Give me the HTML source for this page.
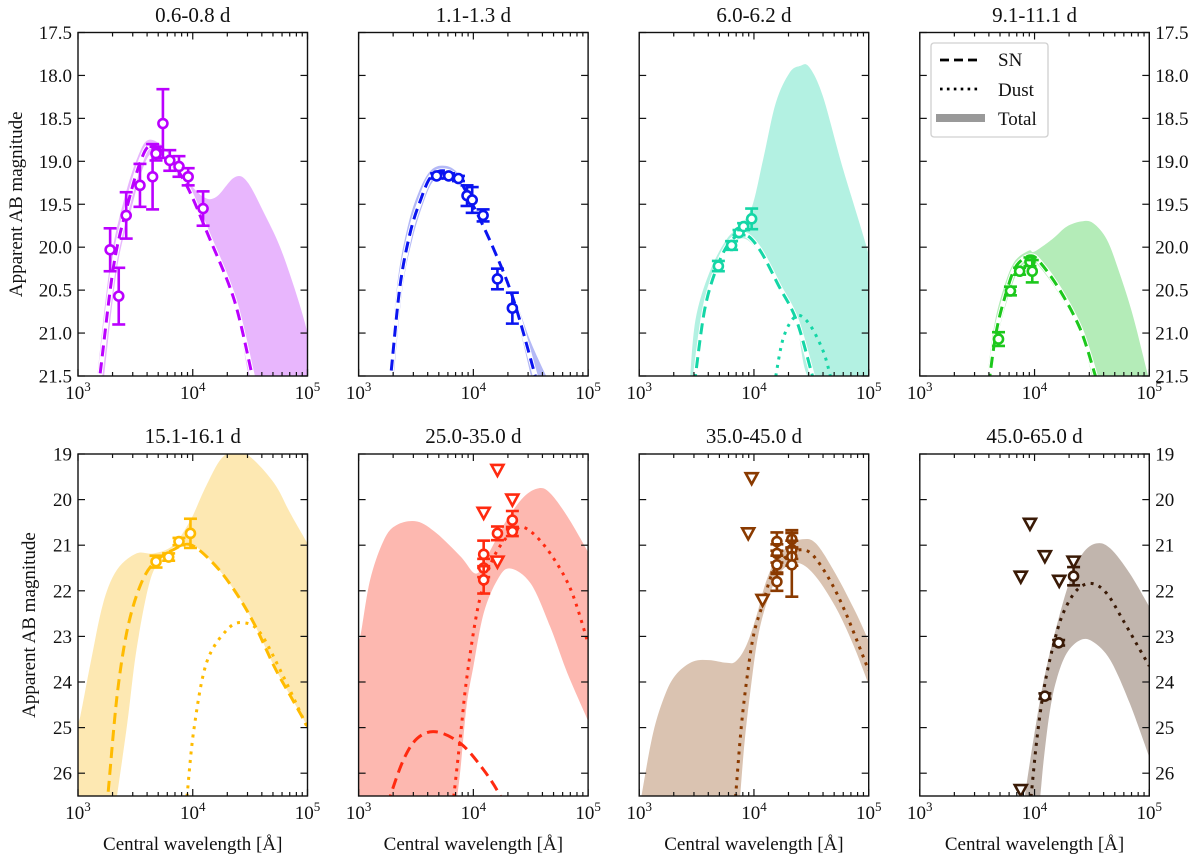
<!DOCTYPE html>
<html><head><meta charset="utf-8"><style>
html,body{margin:0;padding:0;background:#fff}
svg{display:block}
svg text{font-family:"Liberation Serif","Times New Roman",Times,"DejaVu Serif","Noto Serif CJK SC",serif;fill:#111}
</style></head><body>
<svg id="fig" width="1200" height="860" viewBox="0 0 1200 860" xmlns="http://www.w3.org/2000/svg"></svg>
<script>
// ---- panel titles ----
const titles = ["0.6-0.8 d","1.1-1.3 d","6.0-6.2 d","9.1-11.1 d","15.1-16.1 d","25.0-35.0 d","35.0-45.0 d","45.0-65.0 d"];
// ---- SN model curves [log10 lambda, mag] ----
const sn1 = [[3.17,21.6],[3.19,21.5],[3.31,20.22],[3.43,19.52],[3.54,19.02],[3.63,18.82],[3.78,18.94],[3.95,19.29],[4.125,19.83],[4.36,20.61],[4.52,21.5],[4.55,21.6]];
const sn2 = [[3.27,21.6],[3.28,21.5],[3.36,20.46],[3.45,19.83],[3.54,19.45],[3.625,19.19],[3.73,19.11],[3.86,19.19],[4.0,19.52],[4.18,20.03],[4.35,20.61],[4.54,21.5],[4.56,21.6]];
const sn3 = [[3.48,21.6],[3.49,21.5],[3.57,20.73],[3.67,20.26],[3.785,19.95],[3.915,19.85],[4.05,20.03],[4.22,20.46],[4.37,20.85],[4.51,21.5],[4.53,21.6]];
const sn4 = [[3.6,21.6],[3.67,20.96],[3.76,20.5],[3.84,20.22],[3.96,20.1],[4.05,20.18],[4.22,20.5],[4.4,20.96],[4.53,21.5],[4.55,21.6]];
const sn5 = [[3.25,26.7],[3.26,26.5],[3.34,24.31],[3.43,22.85],[3.54,21.9],[3.66,21.39],[3.83,21.1],[3.98,20.99],[4.18,21.4],[4.36,21.98],[4.53,22.7],[4.71,23.66],[4.85,24.3],[5.0,24.97]];
const sn6 = [[3.26,26.7],[3.276,26.5],[3.39,25.71],[3.51,25.24],[3.67,25.09],[3.89,25.35],[4.09,25.93],[4.235,26.5],[4.25,26.7]];
const sn7 = [];
const sn8 = [];
// ---- dust model curves ----
const dust1 = [];
const dust2 = [];
const dust3 = [[4.18,21.6],[4.19,21.5],[4.26,21.04],[4.37,20.8],[4.48,20.89],[4.6,21.2],[4.66,21.47],[4.68,21.6]];
const dust4 = [];
const dust5 = [[3.94,26.7],[3.95,26.5],[4.01,25.04],[4.12,23.58],[4.3,22.85],[4.44,22.7],[4.59,22.93],[4.79,23.88],[4.98,24.9],[5.0,25.0]];
const dust6 = [[3.82,26.7],[3.83,26.5],[3.89,25.13],[3.94,23.96],[4.03,22.49],[4.12,21.62],[4.23,21.03],[4.38,20.63],[4.5,20.7],[4.67,21.18],[4.85,21.98],[5.0,23.15]];
const dust7 = [[3.83,26.7],[3.84,26.5],[3.89,24.98],[3.945,23.81],[4.0,22.93],[4.08,22.27],[4.16,21.62],[4.28,21.25],[4.4,21.1],[4.51,21.21],[4.66,21.76],[4.8,22.49],[5.0,23.75]];
const dust8 = [[3.96,26.7],[3.97,26.5],[4.02,25.27],[4.08,24.18],[4.16,23.23],[4.25,22.49],[4.37,21.98],[4.5,21.84],[4.63,22.06],[4.77,22.64],[4.92,23.3],[5.0,23.65]];
// ---- total band upper / lower edges ----
const bandUp1 = [[3.16,21.6],[3.28,20.2],[3.4,19.45],[3.52,18.95],[3.62,18.75],[3.78,18.88],[3.95,19.22],[4.1,19.42],[4.21,19.41],[4.36,19.19],[4.47,19.23],[4.62,19.6],[4.79,20.1],[5.0,21.0],[5.05,21.6]];
const bandLo1 = [[3.22,21.6],[3.34,20.25],[3.46,19.58],[3.56,19.1],[3.65,18.9],[3.78,19.0],[3.95,19.35],[4.125,19.9],[4.36,20.68],[4.5,21.6]];
const bandUp2 = [[3.26,21.6],[3.34,20.4],[3.43,19.75],[3.52,19.37],[3.62,19.12],[3.73,19.05],[3.86,19.13],[4.0,19.46],[4.18,19.97],[4.35,20.54],[4.5,21.1],[4.67,21.6]];
const bandLo2 = [[3.3,21.6],[3.38,20.5],[3.47,19.9],[3.56,19.5],[3.64,19.25],[3.73,19.17],[3.86,19.25],[4.0,19.58],[4.18,20.1],[4.35,20.68],[4.52,21.6]];
const bandUp3 = [[3.44,21.6],[3.49,20.85],[3.61,20.3],[3.76,19.91],[3.9,19.72],[3.99,19.5],[4.08,18.98],[4.19,18.32],[4.31,17.97],[4.4,17.89],[4.48,17.9],[4.6,18.24],[4.77,19.06],[4.98,19.99],[5.05,20.4]];
const bandLo3 = [[3.5,21.6],[3.57,20.78],[3.67,20.31],[3.785,20.0],[3.915,19.9],[4.05,20.08],[4.22,20.51],[4.37,20.9],[4.52,21.6],[5.05,21.6]];
const bandUp4 = [[3.58,21.6],[3.65,20.9],[3.74,20.44],[3.83,20.16],[3.95,20.04],[4.0,20.05],[4.16,19.9],[4.28,19.76],[4.41,19.7],[4.51,19.72],[4.63,19.91],[4.74,20.3],[4.86,20.81],[4.99,21.5],[5.02,21.6]];
const bandLo4 = [[3.62,21.6],[3.69,20.98],[3.78,20.54],[3.86,20.27],[3.96,20.15],[4.05,20.24],[4.22,20.56],[4.4,21.02],[4.52,21.6]];
const bandUp5 = [[2.98,26.7],[2.98,25.1],[3.02,24.75],[3.11,23.58],[3.22,22.27],[3.34,21.54],[3.51,21.18],[3.66,21.18],[3.83,21.0],[3.98,20.45],[4.1,19.79],[4.24,19.13],[4.36,18.95],[4.5,19.06],[4.71,19.64],[4.85,20.3],[5.0,20.96]];
const bandLo5 = [[2.98,26.7],[3.33,26.7],[3.34,26.5],[3.43,24.9],[3.51,23.29],[3.63,21.76],[3.75,21.25],[3.89,20.96],[4.01,21.0],[4.18,21.4],[4.36,21.98],[4.53,22.7],[4.71,23.66],[4.85,24.3],[5.0,24.97]];
const bandUp6 = [[2.98,26.7],[2.98,23.2],[3.015,23.0],[3.1,21.76],[3.22,20.89],[3.33,20.56],[3.51,20.48],[3.68,20.74],[3.89,21.25],[4.03,21.62],[4.15,21.1],[4.29,20.45],[4.44,19.94],[4.57,19.75],[4.67,19.86],[4.82,20.37],[5.0,21.15]];
const bandLo6 = [[2.98,26.7],[3.85,26.7],[3.86,26.5],[3.89,25.86],[3.94,24.54],[4.0,23.66],[4.09,22.49],[4.21,21.76],[4.32,21.51],[4.5,21.84],[4.67,22.79],[4.82,23.81],[5.0,24.85]];
const bandUp7 = [[3.01,26.7],[3.02,26.5],[3.12,25.13],[3.23,24.25],[3.33,23.81],[3.47,23.55],[3.61,23.52],[3.76,23.58],[3.84,23.55],[3.93,23.22],[4.02,22.57],[4.1,21.84],[4.19,21.32],[4.31,21.0],[4.42,20.87],[4.54,20.96],[4.71,21.62],[4.89,22.49],[5.0,23.1]];
const bandLo7 = [[3.01,26.7],[3.87,26.7],[3.88,26.5],[3.92,25.27],[3.97,24.18],[4.03,23.08],[4.1,22.35],[4.19,21.76],[4.28,21.47],[4.4,21.4],[4.54,21.69],[4.71,22.35],[4.86,23.15],[5.0,24.05]];
const bandUp8 = [[3.9,26.7],[3.915,26.5],[3.99,25.27],[4.08,23.96],[4.19,22.79],[4.31,21.76],[4.42,21.18],[4.54,20.96],[4.66,21.07],[4.83,21.62],[5.0,22.35]];
const bandLo8 = [[4.04,26.7],[4.05,26.5],[4.08,25.71],[4.13,24.69],[4.19,23.96],[4.28,23.37],[4.4,23.08],[4.51,23.12],[4.66,23.52],[4.83,24.47],[5.0,25.65]];
// ---- detections [log10 lambda, mag, err] ----
const det1 = [[3.28,20.03,0.25],[3.355,20.57,0.33],[3.42,19.63,0.27],[3.54,19.28,0.25],[3.65,19.18,0.38],[3.68,18.91,0.08],[3.74,18.56,0.4],[3.80,18.99,0.12],[3.88,19.06,0.12],[3.96,19.18,0.1],[4.09,19.55,0.2]];
const det2 = [[3.68,19.17,0.03],[3.785,19.17,0.03],[3.87,19.2,0.03],[3.945,19.4,0.12],[3.99,19.45,0.15],[4.085,19.63,0.07],[4.21,20.37,0.12],[4.34,20.71,0.18]];
const det3 = [[3.69,20.22,0.06],[3.805,19.98,0.05],[3.87,19.83,0.03],[3.91,19.76,0.04],[3.98,19.67,0.12]];
const det4 = [[3.686,21.07,0.08],[3.79,20.51,0.05],[3.87,20.28,0.04],[3.96,20.17,0.05],[3.98,20.28,0.13]];
const det5 = [[3.68,21.36,0.13],[3.79,21.26,0.08],[3.88,20.92,0.08],[3.98,20.74,0.32]];
const det6 = [[4.09,21.2,0.3],[4.09,21.5,0.2],[4.09,21.76,0.3],[4.21,20.74,0.15],[4.34,20.45,0.2],[4.34,20.7,0.1]];
const det7 = [[4.2,20.92,0.2],[4.2,21.18,0.2],[4.2,21.43,0.2],[4.2,21.8,0.2],[4.33,20.87,0.2],[4.33,21.1,0.2],[4.33,21.25,0.2],[4.33,21.43,0.7]];
const det8 = [[4.09,24.31,0.06],[4.21,23.14,0.06],[4.34,21.68,0.2]];
// ---- upper limits [log10 lambda, mag] ----
const lim1 = [], lim2 = [], lim3 = [], lim4 = [], lim5 = [];
const lim6 = [[4.21,19.35],[4.34,20.0],[4.09,20.29],[4.21,21.36]];
const lim7 = [[3.98,19.53],[3.95,20.74],[4.075,22.2]];
const lim8 = [[3.96,20.53],[3.88,21.69],[4.09,21.24],[4.215,21.78],[4.34,21.36],[3.88,26.37]];
// ---- axis ticks ----
const yTicksTop = [17.5,18.0,18.5,19.0,19.5,20.0,20.5,21.0,21.5];
const yTicksBot = [19,20,21,22,23,24,25,26];
const xDecades = [3,4,5];

const SN=[sn1,sn2,sn3,sn4,sn5,sn6,sn7,sn8];
const DU=[dust1,dust2,dust3,dust4,dust5,dust6,dust7,dust8];
const BU=[bandUp1,bandUp2,bandUp3,bandUp4,bandUp5,bandUp6,bandUp7,bandUp8];
const BL=[bandLo1,bandLo2,bandLo3,bandLo4,bandLo5,bandLo6,bandLo7,bandLo8];
const DET=[det1,det2,det3,det4,det5,det6,det7,det8];
const LIM=[lim1,lim2,lim3,lim4,lim5,lim6,lim7,lim8];
const COL=["#bb00ff","#0a14f0","#14d6a6","#1cc81c","#ffbb00","#ff2a10","#8a3a00","#3a1a06"];
const FILL=["#e8b6fd","#b4b9f6","#b3f1e2","#b4ecb8","#fde8b2","#fdb8b0","#dac3b1","#c1b5ad"];
const WHITEUNDER=[true,true,true,true,false,false,false,false];

const NS="http://www.w3.org/2000/svg";
const svg=document.getElementById('fig');
function el(tag,attrs,parent){const e=document.createElementNS(NS,tag);for(const k in attrs)e.setAttribute(k,attrs[k]);(parent||svg).appendChild(e);return e;}
const W=229.5, DEC=W/2;
function left(i){return 78+(i%4)*280.6;}
function X(i,l){return left(i)+(l-3)*DEC;}
function top_(i){return i<4?32.5:454;}
function bot(i){return i<4?376:796;}
function Y(i,m){return i<4?32.5+(m-17.5)*(343.5/4):454+(m-19)*(342/7.5);}
function xy(i,arr){return arr.map(p=>[X(i,p[0]),Y(i,p[1])]);}
function smooth(P,start){
  let d=(start?'M':'L')+P[0][0].toFixed(1)+','+P[0][1].toFixed(1);
  for(let k=0;k<P.length-1;k++){
    const p0=P[k-1]||P[k],p1=P[k],p2=P[k+1],p3=P[k+2]||P[k+1];
    const c1=[p1[0]+(p2[0]-p0[0])/6,p1[1]+(p2[1]-p0[1])/6];
    const c2=[p2[0]-(p3[0]-p1[0])/6,p2[1]-(p3[1]-p1[1])/6];
    d+=' C'+c1[0].toFixed(1)+','+c1[1].toFixed(1)+' '+c2[0].toFixed(1)+','+c2[1].toFixed(1)+' '+p2[0].toFixed(1)+','+p2[1].toFixed(1);
  }
  return d;
}

const defs=el('defs',{});
for(let i=0;i<8;i++){
  const cp=el('clipPath',{id:'clip'+i},defs);
  el('rect',{x:left(i),y:top_(i),width:W,height:bot(i)-top_(i)},cp);
}

for(let i=0;i<8;i++){
  const g=el('g',{});
  
  
  const c=el('g',{'clip-path':'url(#clip'+i+')'},g);
  const d=smooth(xy(i,BU[i]),true)+' '+smooth(xy(i,BL[i].slice().reverse()),false)+' Z';
  const band=el('path',{d:d,fill:FILL[i],stroke:'none'},c);
  
  
  if(SN[i].length){
    if(WHITEUNDER[i]) el('path',{d:smooth(xy(i,SN[i]),true),fill:'none',stroke:'#fff','stroke-width':5},c);
    const l=el('path',{d:smooth(xy(i,SN[i]),true),fill:'none',stroke:COL[i],'stroke-width':3,'stroke-dasharray':'11,6'},c);
    
    
  }
  if(DU[i].length){
    const l=el('path',{d:smooth(xy(i,DU[i]),true),fill:'none',stroke:COL[i],'stroke-width':3,'stroke-dasharray':'3,5.5'},c);
    
    
  }
  LIM[i].forEach(p=>{
    const x=X(i,p[0]),y=Y(i,p[1]);
    const t=el('polygon',{points:`${x-6},${y-5} ${x+6},${y-5} ${x},${y+6}`,fill:'#fff',stroke:COL[i],'stroke-width':2.6,'stroke-linejoin':'miter'},c);
    
    
  });
  DET[i].forEach(p=>{
    const x=X(i,p[0]),y=Y(i,p[1]),y1=Y(i,p[1]-p[2]),y2=Y(i,p[1]+p[2]);
    const eg=el('g',{stroke:COL[i],'stroke-width':2.6},c);
    
    
    el('line',{x1:x,y1:y1,x2:x,y2:y2},eg);
    el('line',{x1:x-6.5,y1:y1,x2:x+6.5,y2:y1},eg);
    el('line',{x1:x-6.5,y1:y2,x2:x+6.5,y2:y2},eg);
    el('circle',{cx:x,cy:y,r:4.5,fill:'#fff'},eg);
  });
  const fr=el('rect',{x:left(i),y:top_(i),width:W,height:bot(i)-top_(i),fill:'none',stroke:'#111','stroke-width':1.4},g);
  
  
  const tk=el('g',{stroke:'#111','stroke-width':1.2},g);
  for(let dd=3;dd<5;dd++){for(let k=2;k<10;k++){const x=X(i,dd+Math.log10(k));
    el('line',{x1:x,y1:bot(i),x2:x,y2:bot(i)-4},tk);el('line',{x1:x,y1:top_(i),x2:x,y2:top_(i)+4},tk);}}
  xDecades.forEach(dd=>{const x=X(i,dd);
    el('line',{x1:x,y1:bot(i),x2:x,y2:bot(i)-7},tk);el('line',{x1:x,y1:top_(i),x2:x,y2:top_(i)+7},tk);
    const t=el('text',{x:x,y:bot(i)+23,'text-anchor':'middle','font-size':19},g);
    
    
    t.appendChild(document.createTextNode('10'));
    const s=el('tspan',{dy:-8,'font-size':13},t);s.textContent=String(dd);
  });
  const yt=i<4?yTicksTop:yTicksBot;
  yt.forEach(m=>{const y=Y(i,m);
    el('line',{x1:left(i),y1:y,x2:left(i)+7,y2:y},tk);
    el('line',{x1:left(i)+W,y1:y,x2:left(i)+W-7,y2:y},tk);
    const lab=i<4?m.toFixed(1):String(m);
    if(i%4===0){const t=el('text',{x:left(i)-6,y:y+6.5,'text-anchor':'end','font-size':19},g);t.textContent=lab;
      
      }
    if(i%4===3){const t=el('text',{x:left(i)+W+6,y:y+6.5,'text-anchor':'start','font-size':19},g);t.textContent=lab;
      
      }
  });
  const tt=el('text',{x:left(i)+W/2,y:i<4?22:443,'text-anchor':'middle','font-size':21},g);
  tt.textContent=titles[i];
  
  
  if(i>=4){
    const xl=el('text',{x:left(i)+W/2,y:850,'text-anchor':'middle','font-size':19},g);
    xl.textContent='Central wavelength [Å]';
    
    
  }
  if(i%4===0){
    const cy=(top_(i)+bot(i))/2, cx=i<4?22:35;
    const yl=el('text',{x:cx,y:cy,'text-anchor':'middle','font-size':19,transform:`rotate(-90 ${cx} ${cy})`},g);
    yl.textContent='Apparent AB magnitude';
    
    
  }
}
const lg=el('g',{});


el('rect',{x:931,y:43,width:117,height:94,rx:3,fill:'#fff',stroke:'#d0d0d0','stroke-width':1.3},lg);
const e1=el('line',{x1:940,y1:60,x2:981,y2:60,stroke:'#000','stroke-width':2.8,'stroke-dasharray':'9,5'},lg);


const e2=el('line',{x1:940,y1:89,x2:981,y2:89,stroke:'#000','stroke-width':2.8,'stroke-dasharray':'2.6,4.3'},lg);


const e3=el('line',{x1:936,y1:118,x2:985,y2:118,stroke:'#999','stroke-width':8},lg);


[['SN',66],['Dust',96],['Total',125]].forEach(a=>{const t=el('text',{x:998,y:a[1],'font-size':19},lg);t.textContent=a[0];});
</script>
</body></html>
